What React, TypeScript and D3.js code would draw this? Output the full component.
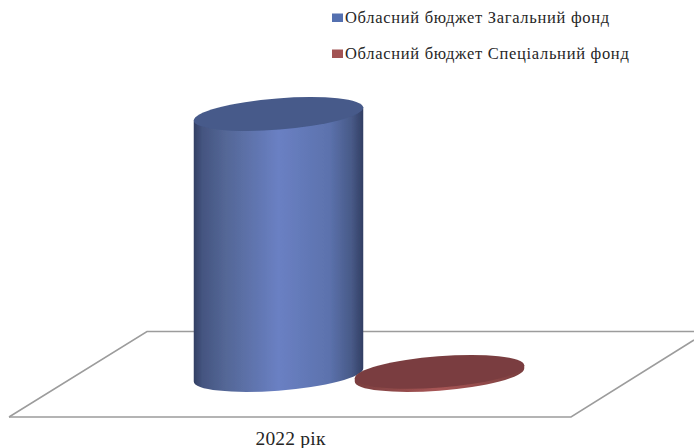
import { useEffect, useRef } from "react"
import * as d3 from "d3"

const series = ["Обласний бюджет Загальний фонд", "Обласний бюджет Спеціальний фонд"]
const values = [100, 1.2]
const category = "2022 рік"
const fills = ["#5470b0", "#a25353"]
const topFills = ["#465a8a", "#7a3e3f"]
const sideStops = [
  [["0%", "#323f63"], ["5%", "#445480"], ["18%", "#536695"], ["50%", "#6a80c3"], ["80%", "#5c72ad"], ["93%", "#485a88"], ["100%", "#323f63"]],
  [["0%", "#7a3e3f"], ["50%", "#a85656"], ["100%", "#7a3e3f"]],
]

const W = 694, H = 448
const serif = "'Liberation Serif', 'DejaVu Serif', serif"

export default function App() {
  const ref = useRef<SVGSVGElement>(null)
  useEffect(() => {
    if (!ref.current) return
    const root = d3.select(ref.current)
    root.selectAll("*").remove()

    const x = d3.scalePoint<string>().domain(series).range([278.5, 439.5])
    const h = d3.scaleLinear().domain([0, 100]).range([0, 261])
    const baseY = 375
    const rx = 85, ry = 15.6, deg = -4.5
    const th = (deg * Math.PI) / 180
    const t0 = Math.atan2(-ry * Math.sin(th), rx * Math.cos(th))
    const ex = rx * Math.cos(t0) * Math.cos(th) - ry * Math.sin(t0) * Math.sin(th)
    const ey = rx * Math.cos(t0) * Math.sin(th) + ry * Math.sin(t0) * Math.cos(th)

    const defs = root.append("defs")
    series.forEach((_, i) => {
      const g = defs.append("linearGradient").attr("id", `side${i}`)
      sideStops[i].forEach(s => g.append("stop").attr("offset", s[0]).attr("stop-color", s[1]))
    })
    defs.append("filter").attr("id", "soft").append("feGaussianBlur").attr("stdDeviation", 0.35)

    // floor of the 3D plot
    const floor = d3.line()([[9, 417], [147, 331.5], [694, 331.5]])!
    const floor2 = d3.line()([[9, 417], [571, 417], [694, 340]])!
    root.append("path").attr("d", floor).attr("fill", "none").attr("stroke", "#9c9c9c").attr("stroke-width", 1.5)
    root.append("path").attr("d", floor2).attr("fill", "none").attr("stroke", "#9c9c9c").attr("stroke-width", 1.5)

    // cylinders
    const marks = root.append("g").attr("filter", "url(#soft)")
    series.forEach((s, i) => {
      const cx = x(s)!
      const yTop = baseY - h(values[i])
      // side: down the left edge, round the front of the base, up the right edge
      const side = `M${cx - ex},${yTop - ey}L${cx - ex},${baseY - ey}` +
        `A${rx},${ry} ${deg} 0 0 ${cx + ex},${baseY + ey}L${cx + ex},${yTop + ey}Z`
      marks.append("path").attr("d", side).attr("fill", `url(#side${i})`)
      marks.append("ellipse")
        .attr("rx", rx).attr("ry", ry)
        .attr("transform", `translate(${cx},${yTop}) rotate(${deg})`)
        .attr("fill", topFills[i])
    })

    // legend
    const legendY = d3.scalePoint<string>().domain(series).range([18, 54])
    const legend = root.append("g").selectAll("g").data(series).join("g")
      .attr("transform", d => `translate(332,${legendY(d)})`)
    legend.append("rect").attr("y", -4.5).attr("width", 11).attr("height", 8.5)
      .attr("fill", (_, i) => fills[i])
    legend.append("text").attr("x", 13).attr("y", 4.5)
      .style("font-family", serif).style("font-size", "16.5px").style("letter-spacing", "0.7px")
      .style("fill", "#262626").text(d => d)

    root.append("text").attr("x", 290.5).attr("y", 445).attr("text-anchor", "middle")
      .style("font-family", serif).style("font-size", "19.5px").style("letter-spacing", "0.2px")
      .style("fill", "#262626").text(category)
  }, [])
  return <svg ref={ref} width={W} height={H} style={{ position: "fixed", left: 0, top: 0, display: "block", background: "#fff" }} />
}
